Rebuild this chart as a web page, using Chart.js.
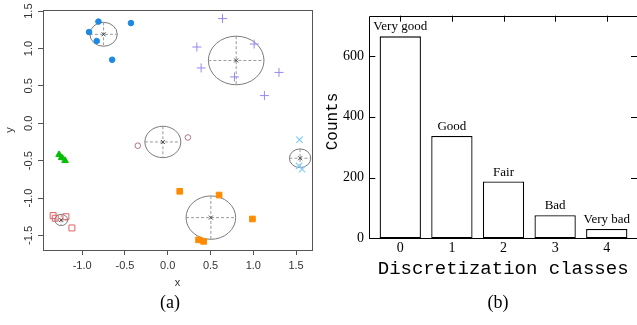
<!DOCTYPE html>
<html><head><meta charset="utf-8">
<script src="https://cdn.jsdelivr.net/npm/chart.js@4.4.1/dist/chart.umd.min.js"></script>
<style>
html,body{margin:0;padding:0;background:#fff;overflow:hidden;width:637px;height:325px;}
#wa{position:absolute;left:0;top:0;width:325px;height:325px;}
#wb{position:absolute;left:320px;top:0;width:317px;height:325px;}
.cap{position:absolute;font-family:"Liberation Serif",serif;font-size:18px;color:#000;transform:translate(-50%,-50%);white-space:nowrap;}
</style></head><body>
<div id="wa"><canvas id="ca"></canvas></div>
<div id="wb"><canvas id="cb"></canvas></div>
<div class="cap" style="left:170px;top:302px">(a)</div>
<div class="cap" style="left:498px;top:302px">(b)</div>
<script>
// ---- panel (a): clustered points ----
const groupBlue   = [[-0.92,1.22],[-0.81,1.36],[-0.83,1.10],[-0.43,1.34],[-0.65,0.85]];
const groupPurple = [[0.34,1.02],[0.64,1.40],[0.39,0.74],[0.78,0.62],[1.01,1.06],[1.30,0.68],[1.13,0.37]];
const groupPink   = [[-0.35,-0.30],[0.235,-0.19]];
const groupGreen  = [[-1.27,-0.42],[-1.24,-0.46],[-1.20,-0.50]];
const groupSky    = [[1.54,-0.22],[1.535,-0.57],[1.57,-0.615]];
const groupOrange = [[0.14,-0.91],[0.60,-0.96],[0.99,-1.28],[0.36,-1.56],[0.42,-1.58]];
const groupRed    = [[-1.34,-1.235],[-1.315,-1.27],[-1.19,-1.25],[-1.12,-1.40]];
const centerX = [-0.75, 0.80, -0.057, -1.24, 1.547, 0.504, -1.245];
const centerY = [1.19, 0.84, -0.25, -0.46, -0.468, -1.262, -1.293];
const spread  = [0.16, 0.325, 0.21, 0.03, 0.125, 0.29, 0.075];
const xTicksA = [-1, -0.5, 0, 0.5, 1, 1.5];
const yTicksA = [-1.5, -1, -0.5, 0, 0.5, 1, 1.5];

// ---- panel (b): class counts ----
const classes = [0, 1, 2, 3, 4];
const counts = [665, 337, 187, 76, 31];
const classNames = ['Very good', 'Good', 'Fair', 'Bad', 'Very bad'];
const yTicksB = [0, 200, 400, 600];

const pts = g => g.map(p => ({x: p[0], y: p[1]}));

const clusterPlugin = {
  id: 'clusters',
  beforeDatasetsDraw(chart) {
    const {ctx, scales: {x, y}} = chart;
    ctx.save();
    centerX.forEach((cx, i) => {
      const px = x.getPixelForValue(cx), py = y.getPixelForValue(centerY[i]);
      const rx = Math.abs(x.getPixelForValue(cx + spread[i]) - px);
      const ry = Math.abs(y.getPixelForValue(centerY[i] + spread[i]) - py);
      ctx.lineWidth = 1;
      ctx.setLineDash([]);
      ctx.strokeStyle = '#7a7a7a';
      ctx.beginPath(); ctx.ellipse(px, py, rx, ry, 0, 0, Math.PI * 2); ctx.stroke();
      ctx.setLineDash([3, 2]);
      ctx.strokeStyle = '#999';
      ctx.beginPath();
      ctx.moveTo(px - rx, py); ctx.lineTo(px + rx, py);
      ctx.moveTo(px, py - ry); ctx.lineTo(px, py + ry);
      ctx.stroke();
      ctx.setLineDash([]);
      ctx.strokeStyle = '#444';
      ctx.beginPath();
      ctx.moveTo(px - 2, py - 2); ctx.lineTo(px + 2, py + 2);
      ctx.moveTo(px - 2, py + 2); ctx.lineTo(px + 2, py - 2);
      ctx.stroke();
    });
    ctx.restore();
  },
  afterDraw(chart) {
    const {ctx, chartArea: a} = chart;
    ctx.save();
    ctx.strokeStyle = '#555'; ctx.lineWidth = 1;
    ctx.strokeRect(Math.round(a.left) + 0.5, Math.round(a.top) + 0.5, Math.round(a.right - a.left), Math.round(a.bottom - a.top));
    ctx.restore();
  }
};

const sansA = {family: '"Liberation Sans", Arial, sans-serif', size: 11};

new Chart(document.getElementById('ca'), {
  type: 'scatter',
  data: {datasets: [
    {data: pts(groupBlue), pointStyle: 'circle', radius: 2.8, backgroundColor: '#1E88E5', borderColor: '#1E88E5', borderWidth: 1},
    {data: pts(groupPurple), pointStyle: 'cross', radius: 4.5, backgroundColor: 'rgba(0,0,0,0)', borderColor: '#9B86F0', borderWidth: 1},
    {data: pts(groupPink), pointStyle: 'circle', radius: 2.8, backgroundColor: 'rgba(0,0,0,0)', borderColor: '#B0708F', borderWidth: 1},
    {data: pts(groupGreen), pointStyle: 'triangle', radius: 3.8, backgroundColor: '#00C000', borderColor: '#00C000', borderWidth: 1},
    {data: pts(groupSky), pointStyle: 'crossRot', radius: 4.5, backgroundColor: 'rgba(0,0,0,0)', borderColor: '#87CEFA', borderWidth: 1.2},
    {data: pts(groupOrange), pointStyle: 'rect', radius: 4, backgroundColor: '#FF8C00', borderColor: '#FF8C00', borderWidth: 1},
    {data: pts(groupRed), pointStyle: 'rect', radius: 4.2, backgroundColor: 'rgba(0,0,0,0)', borderColor: '#E06060', borderWidth: 1}
  ]},
  options: {
    responsive: true, maintainAspectRatio: false, animation: false,
    layout: {padding: {left: 0, top: 10, right: 13, bottom: 0}},
    plugins: {legend: {display: false}, tooltip: {enabled: false}},
    scales: {
      x: {
        type: 'linear', min: -1.458, max: 1.686,
        afterBuildTicks(s) { s.ticks = xTicksA.map(v => ({value: v})); },
        afterFit(s) { s.height = 75; },
        grid: {display: true, drawOnChartArea: false, drawTicks: true, tickLength: 5, color: '#555'},
        border: {display: true, color: '#555'},
        ticks: {padding: 4, color: '#333', font: sansA, autoSkip: false, maxRotation: 0, minRotation: 0, callback: v => v.toFixed(1)},
        title: {display: true, text: 'x', color: '#333', font: sansA, padding: {top: 0, bottom: 35}}
      },
      y: {
        type: 'linear', min: -1.695, max: 1.515,
        afterBuildTicks(s) { s.ticks = yTicksA.map(v => ({value: v})); },
        afterFit(s) { s.width = 43; },
        grid: {display: true, drawOnChartArea: false, drawTicks: true, tickLength: 5, color: '#555'},
        border: {display: true, color: '#555'},
        ticks: {padding: 0, color: '#333', font: sansA, autoSkip: false, minRotation: 90, maxRotation: 90, crossAlign: 'center', callback: v => v.toFixed(1)},
        title: {display: true, text: 'y', color: '#333', font: sansA, padding: {top: 3, bottom: 0}}
      }
    }
  },
  plugins: [clusterPlugin]
});

const barDeco = {
  id: 'barDeco',
  beforeDatasetsDraw(chart) {
    const {ctx, chartArea: a, scales: {x, y}} = chart;
    ctx.save();
    ctx.strokeStyle = '#000'; ctx.lineWidth = 1;
    ctx.beginPath();
    yTicksB.forEach(v => {
      const py = Math.round(y.getPixelForValue(v)) + 0.5;
      ctx.moveTo(a.left, py); ctx.lineTo(a.left + 6, py);
      ctx.moveTo(a.right - 6, py); ctx.lineTo(a.right, py);
    });
    classes.forEach(v => {
      const px = Math.round(x.getPixelForValue(v)) + 0.5;
      ctx.moveTo(px, a.top); ctx.lineTo(px, a.top + 6);
      ctx.moveTo(px, a.bottom - 6); ctx.lineTo(px, a.bottom);
    });
    ctx.stroke();
    ctx.restore();
  },
  afterDatasetsDraw(chart) {
    const {ctx, chartArea: a, scales: {x, y}} = chart;
    ctx.save();
    ctx.strokeStyle = '#000'; ctx.lineWidth = 1;
    const L = Math.round(a.left) + 0.5, T = Math.round(a.top) + 0.5, B = Math.round(a.bottom) + 0.5;
    ctx.beginPath();
    ctx.moveTo(a.right + 2, T); ctx.lineTo(L, T); ctx.lineTo(L, B); ctx.lineTo(a.right + 2, B);
    ctx.stroke();
    ctx.fillStyle = '#000';
    ctx.font = '13px "Liberation Serif", "Times New Roman", serif';
    ctx.textAlign = 'center';
    ctx.textBaseline = 'alphabetic';
    classes.forEach((c, i) => {
      ctx.fillText(classNames[i], x.getPixelForValue(c), y.getPixelForValue(counts[i]) - 6);
    });
    // y-axis title
    ctx.save();
    ctx.translate(12.5, 121.5);
    ctx.rotate(-Math.PI / 2);
    ctx.font = '16px "Liberation Mono", "Courier New", monospace';
    ctx.textBaseline = 'middle';
    ctx.fillText('Counts', 0, 0);
    ctx.restore();
    ctx.restore();
  }
};

const serifB = {family: '"Liberation Serif", "Times New Roman", serif', size: 14};
const monoB = {family: '"Liberation Mono", "Courier New", monospace'};

new Chart(document.getElementById('cb'), {
  type: 'bar',
  data: {datasets: [{
    data: classes.map((c, i) => ({x: c, y: counts[i]})),
    backgroundColor: '#fff', borderColor: '#000', borderWidth: 1.3,
    barPercentage: 0.8, categoryPercentage: 1.0, borderSkipped: false
  }]},
  options: {
    responsive: true, maintainAspectRatio: false, animation: false,
    layout: {padding: {left: 0, top: 15.7, right: 0, bottom: 0}},
    plugins: {legend: {display: false}, tooltip: {enabled: false}},
    scales: {
      x: {
        type: 'linear', min: -0.6, max: 4.586, offset: false,
        afterBuildTicks(s) { s.ticks = classes.map(v => ({value: v})); },
        afterFit(s) { s.height = 86.7; },
        grid: {display: false, drawTicks: false},
        border: {display: false},
        ticks: {padding: 2, color: '#000', font: serifB, autoSkip: false, maxRotation: 0, minRotation: 0},
        title: {display: true, text: 'Discretization classes', color: '#000', font: Object.assign({size: 19}, monoB), padding: {top: 0, bottom: 45}}
      },
      y: {
        type: 'linear', min: 0, max: 733,
        afterBuildTicks(s) { s.ticks = yTicksB.map(v => ({value: v})); },
        afterFit(s) { s.width = 49.3; },
        grid: {display: false, drawTicks: false},
        border: {display: false},
        ticks: {padding: 5.3, color: '#000', font: serifB, autoSkip: false},
        title: {display: false, text: 'Counts'}
      }
    }
  },
  plugins: [barDeco]
});
</script>
</body></html>
